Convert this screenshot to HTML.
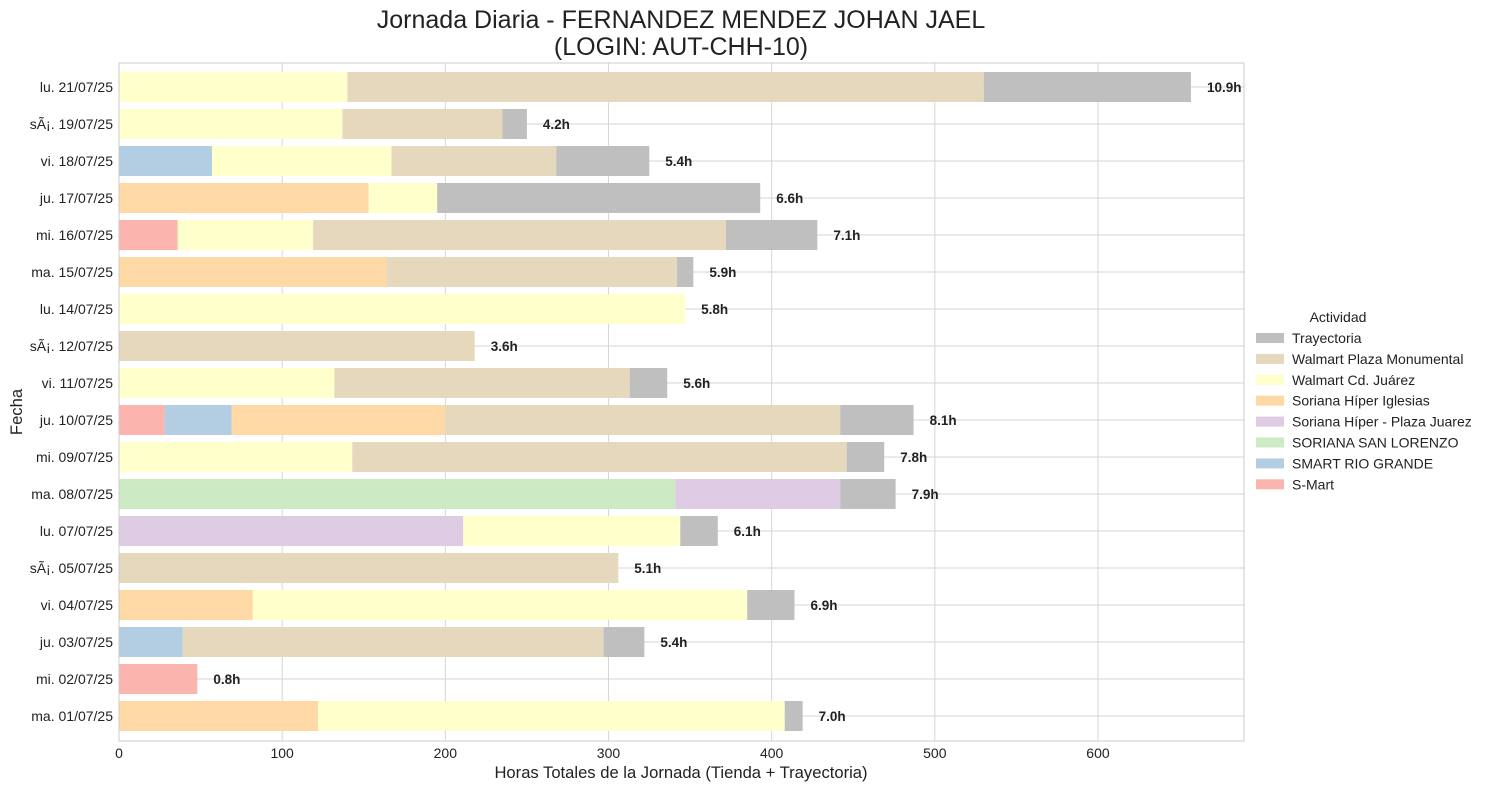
<!DOCTYPE html>
<html><head><meta charset="utf-8"><style>
body{margin:0;background:#fff;font-family:"Liberation Sans","DejaVu Sans",sans-serif;}
svg text{font-family:"Liberation Sans","DejaVu Sans",sans-serif;}
</style></head><body>
<svg id="chart" width="1490" height="790" xmlns="http://www.w3.org/2000/svg">
<text x="681" y="28" font-size="25" text-anchor="middle" fill="#222">Jornada Diaria - FERNANDEZ MENDEZ JOHAN JAEL</text>
<text x="681" y="55" font-size="25" text-anchor="middle" fill="#222">(LOGIN: AUT-CHH-10)</text>
<g id="grid"></g><g id="bars"></g><g id="axes"></g><g id="legend"></g>
<text x="681" y="778" font-size="16.6" text-anchor="middle" fill="#222">Horas Totales de la Jornada (Tienda + Trayectoria)</text>
<text transform="translate(22,412) rotate(-90)" font-size="16.6" text-anchor="middle" fill="#222">Fecha</text>
</svg>
<script>
const categories=["lu. 21/07/25","sÃ¡. 19/07/25","vi. 18/07/25","ju. 17/07/25","mi. 16/07/25","ma. 15/07/25","lu. 14/07/25","sÃ¡. 12/07/25","vi. 11/07/25","ju. 10/07/25","mi. 09/07/25","ma. 08/07/25","lu. 07/07/25","sÃ¡. 05/07/25","vi. 04/07/25","ju. 03/07/25","mi. 02/07/25","ma. 01/07/25"];
const seriesNames=["S-Mart","SMART RIO GRANDE","SORIANA SAN LORENZO","Soriana Híper - Plaza Juarez","Soriana Híper Iglesias","Walmart Cd. Juárez","Walmart Plaza Monumental","Trayectoria"];
const colors=["#fbb4ae","#b3cde3","#ccebc5","#decbe4","#fed9a6","#ffffcc","#e5d8bd","#bfbfbf"];
const sMart=[0,0,0,0,36,0,0,0,0,28,0,0,0,0,0,0,48,0];
const smartRio=[0,0,57,0,0,0,0,0,0,41,0,0,0,0,0,39,0,0];
const sanLorenzo=[0,0,0,0,0,0,0,0,0,0,0,341,0,0,0,0,0,0];
const plazaJuarez=[0,0,0,0,0,0,0,0,0,0,0,101,211,0,0,0,0,0];
const iglesias=[0,0,0,153,0,164,0,0,0,131,0,0,0,0,82,0,0,122];
const cdJuarez=[140,137,110,42,83,0,347,0,132,0,143,0,133,0,303,0,0,286];
const plazaMon=[390,98,101,0,253,178,0,218,181,242,303,0,0,306,0,258,0,0];
const trayectoria=[127,15,57,198,56,10,0,0,23,45,23,34,23,0,29,25,0,11];
const totalLabels=["10.9h","4.2h","5.4h","6.6h","7.1h","5.9h","5.8h","3.6h","5.6h","8.1h","7.8h","7.9h","6.1h","5.1h","6.9h","5.4h","0.8h","7.0h"];
const xTicks=[0,100,200,300,400,500,600];
const series=[sMart,smartRio,sanLorenzo,plazaJuarez,iglesias,cdJuarez,plazaMon,trayectoria];
const NS="http://www.w3.org/2000/svg";
const L=119,R=1244,T=63,B=741,xMax=689.5;
const x=v=>L+v/xMax*(R-L);
const step=(716-87)/17;
const y=i=>87+i*step;
function mk(tag,attrs,parent){const e=document.createElementNS(NS,tag);for(const k in attrs)e.setAttribute(k,attrs[k]);parent.appendChild(e);return e;}
const grid=document.getElementById('grid'),bars=document.getElementById('bars'),axes=document.getElementById('axes'),leg=document.getElementById('legend');
xTicks.forEach(t=>{const l=mk('line',{x1:x(t),x2:x(t),y1:T,y2:B,stroke:'#d6d6d6'},grid);


const tx=mk('text',{x:x(t),y:B+17,'font-size':14,'text-anchor':'middle',fill:'#222'},axes);tx.textContent=t;

});
categories.forEach((c,i)=>{const l=mk('line',{x1:L,x2:R,y1:y(i),y2:y(i),stroke:'#d6d6d6'},grid);


const tx=mk('text',{x:L-6,y:y(i)+5,'font-size':14,'text-anchor':'end',fill:'#222'},axes);tx.textContent=c;


let acc=0;series.forEach((s,k)=>{if(s[i]>0){const r=mk('rect',{x:x(acc),y:y(i)-15,width:x(acc+s[i])-x(acc),height:30,fill:colors[k]},bars);


acc+=s[i];}});
const lb=mk('text',{x:x(acc)+16,y:y(i)+5,'font-size':13.5,'font-weight':'bold',fill:'#222'},bars);lb.textContent=totalLabels[i];

});
const fr=mk('rect',{x:L,y:T,width:R-L,height:B-T,fill:'none',stroke:'#ccc'},axes);


const lt=mk('text',{x:1338,y:322,'font-size':14,'text-anchor':'middle',fill:'#222'},leg);lt.textContent='Actividad';


for(let j=0;j<8;j++){const k=7-j;const yy=338+j*20.9;
const sw=mk('rect',{x:1256,y:yy-5,width:28,height:10,fill:colors[k]},leg);


const t=mk('text',{x:1292,y:yy+5,'font-size':14,fill:'#222'},leg);t.textContent=seriesNames[k];

}
</script>
</body></html>
